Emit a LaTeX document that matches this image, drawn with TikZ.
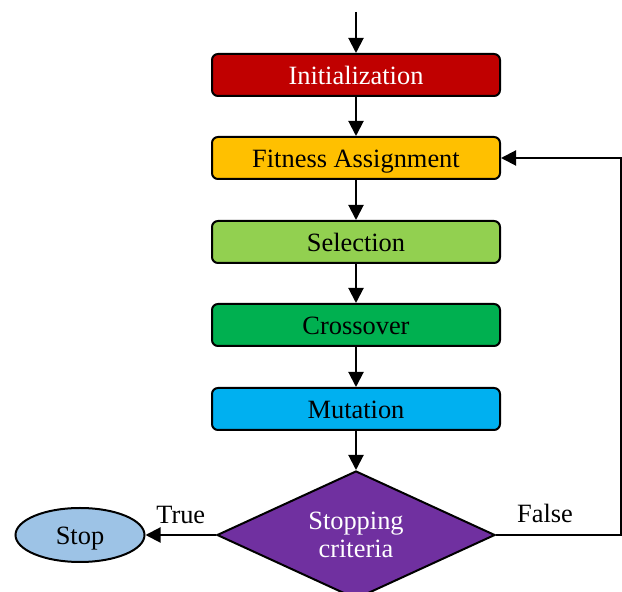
\documentclass[tikz,border=0pt]{standalone}
\usepackage{fontspec}
\setmainfont{Liberation Serif}
\usetikzlibrary{arrows.meta,shapes.geometric}
\definecolor{initred}{HTML}{C00000}
\definecolor{fitgold}{HTML}{FFC000}
\definecolor{selgreen}{HTML}{92D050}
\definecolor{crossgreen}{HTML}{00B050}
\definecolor{mutblue}{HTML}{00B0F0}
\definecolor{decpurple}{HTML}{7030A0}
\definecolor{stopblue}{HTML}{9DC3E6}
\tikzset{
 stage/.style={draw=black, line width=1pt, rounded corners=3pt, minimum width=144pt, minimum height=21pt, inner sep=0pt, text height=9.5pt, text depth=0pt},
 flow/.style={line width=1pt, -{Triangle[length=7.5pt,width=7.5pt]}},
}
\begin{document}
\begin{tikzpicture} [x=0.5pt,y=-0.5pt, font=\fontsize{13.2}{14}\selectfont]
\useasboundingbox (0,0) rectangle (622,592);
\node[stage, fill=initred, text=white] (init) at (356,75) {Initialization};
\node[stage, fill=fitgold] (fit) at (356,158) {Fitness Assignment};
\node[stage, fill=selgreen] (sel) at (356,242) {Selection};
\node[stage, fill=crossgreen] (cross) at (356,325) {Crossover};
\node[stage, fill=mutblue] (mut) at (356,409) {Mutation};
\node[diamond, aspect=2.17, draw=black, line width=1pt, fill=decpurple, text=white, align=center,
 minimum width=139pt, minimum height=64pt, inner sep=0pt] (dec) at (356,535) {Stopping\\criteria};
\node[ellipse, draw=black, line width=1pt, fill=stopblue, minimum width=64.5pt, minimum height=27pt, inner sep=0pt, text height=9.5pt, text depth=0pt] (stop) at (80,535) {Stop};
\coordinate (start) at (356,12);
\coordinate (back) at (620.5,535);
% main flow
\draw[flow] (start) -- (init);
\draw[flow] (init) -- (fit);
\draw[flow] (fit) -- (sel);
\draw[flow] (sel) -- (cross);
\draw[flow] (cross) -- (mut);
\draw[flow] (mut) -- (dec);
% exits of the test
\draw[flow] (dec.west) -- (stop.east) node[pos=0.5, above=2pt] {True};
\draw[flow] (dec.east) -- (back) |- (fit.east);
\node (false) at (545,513) {False};
\end{tikzpicture}
\end{document}
